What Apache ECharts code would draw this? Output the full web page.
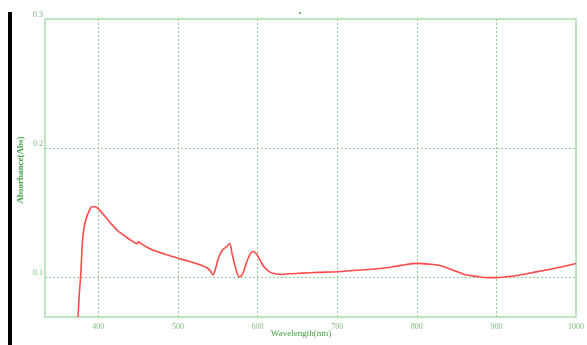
<!DOCTYPE html>
<html>
<head>
<meta charset="utf-8">
<script src="https://cdn.jsdelivr.net/npm/echarts@6/dist/echarts.min.js"></script>
<style>html,body{margin:0;padding:0;background:#fff;}#c{width:587px;height:345px;}</style>
</head>
<body>
<div id="c"></div>
<script>
const wavelength = [374.5,376,378,380,382,385,388,392,396,400,405,410,418,426,435,442,449,450,451,460,470,480,490,500,510,520,530,537,541,544,547,551,556,561,565,568,572,577,581,586,590,594,597,600,604,608,615,622,630,640,655,675,700,730,760,780,800,815,830,845,860,875,890,900,915,930,950,965,980,1000];
const absorbance = [0.069,0.086,0.103,0.127,0.138,0.146,0.1505,0.1545,0.1545,0.1528,0.1495,0.1458,0.140,0.135,0.131,0.128,0.1258,0.1272,0.127,0.1235,0.1205,0.1185,0.1165,0.1145,0.1128,0.111,0.109,0.107,0.1045,0.1015,0.106,0.115,0.121,0.1235,0.126,0.118,0.108,0.100,0.102,0.111,0.117,0.1198,0.119,0.1165,0.112,0.108,0.104,0.1025,0.102,0.1025,0.103,0.1036,0.1041,0.1054,0.107,0.109,0.1106,0.110,0.1088,0.1055,0.102,0.1005,0.0995,0.0995,0.1003,0.1016,0.104,0.1057,0.1075,0.1105];
const xTicks = [400,500,600,700,800,900,1000];
const yTicks = [0.1,0.2,0.3];
const xGrid = [400,500,600,700,800,900];
const yGrid = [0.1,0.2];
const xRange = [333,1000];
const yRange = [0.069,0.3];

const chart = echarts.init(document.getElementById('c'));
const gridColor = '#90d090';
const labelColor = '#7cbc7c';
const titleColor = '#3f9e3f';
const font = 'Liberation Serif';

chart.setOption({
  animation: false,
  grid: {left: 45, top: 19, right: 10, bottom: 28, show: true, borderColor: '#abdbab', borderWidth: 1.5, backgroundColor: 'transparent'},
  xAxis: {
    type: 'value', min: xRange[0], max: xRange[1],
    axisLine: {show: false},
    axisTick: {show: false},
    splitLine: {show: false},
    axisLabel: {customValues: xTicks, color: labelColor, fontSize: 8, fontFamily: font, margin: 6, formatter: v => String(v)}
  },
  yAxis: {
    type: 'value', min: yRange[0], max: yRange[1],
    axisLine: {show: false},
    axisTick: {show: false},
    splitLine: {show: false},
    axisLabel: {customValues: yTicks, color: labelColor, fontSize: 8, fontFamily: font, margin: 2, verticalAlign: 'bottom', formatter: v => String(v)}
  },
  series: [{
    type: 'line',
    data: wavelength.map((w, i) => [w, absorbance[i]]),
    showSymbol: false,
    smooth: 0.3,
    clip: true,
    lineStyle: {color: '#ff4a4a', width: 1.6},
    z: 5,
    markLine: {
      silent: true, symbol: 'none', label: {show: false},
      lineStyle: {color: gridColor, type: [2, 2], width: 1},
      data: xGrid.map(v => ({xAxis: v})).concat(yGrid.map(v => ({yAxis: v})))
    }
  }],
  graphic: [
    {type: 'rect', left: 8, top: 12, shape: {width: 4, height: 333}, style: {fill: '#000'}},
    {type: 'rect', left: 299, top: 12, shape: {width: 2, height: 2}, style: {fill: '#6cbf6c'}},
    {type: 'text', x: 301, y: 334, style: {text: 'Wavelength(nm)', fill: titleColor, font: '9px "Liberation Serif"', align: 'center', verticalAlign: 'middle'}},
    {type: 'text', x: 21, y: 170, rotation: Math.PI/2, style: {text: 'Absorbance(Abs)', fill: titleColor, font: 'bold 9px "Liberation Serif"', align: 'center', verticalAlign: 'middle'}}
  ]
});
</script>
</body>
</html>
